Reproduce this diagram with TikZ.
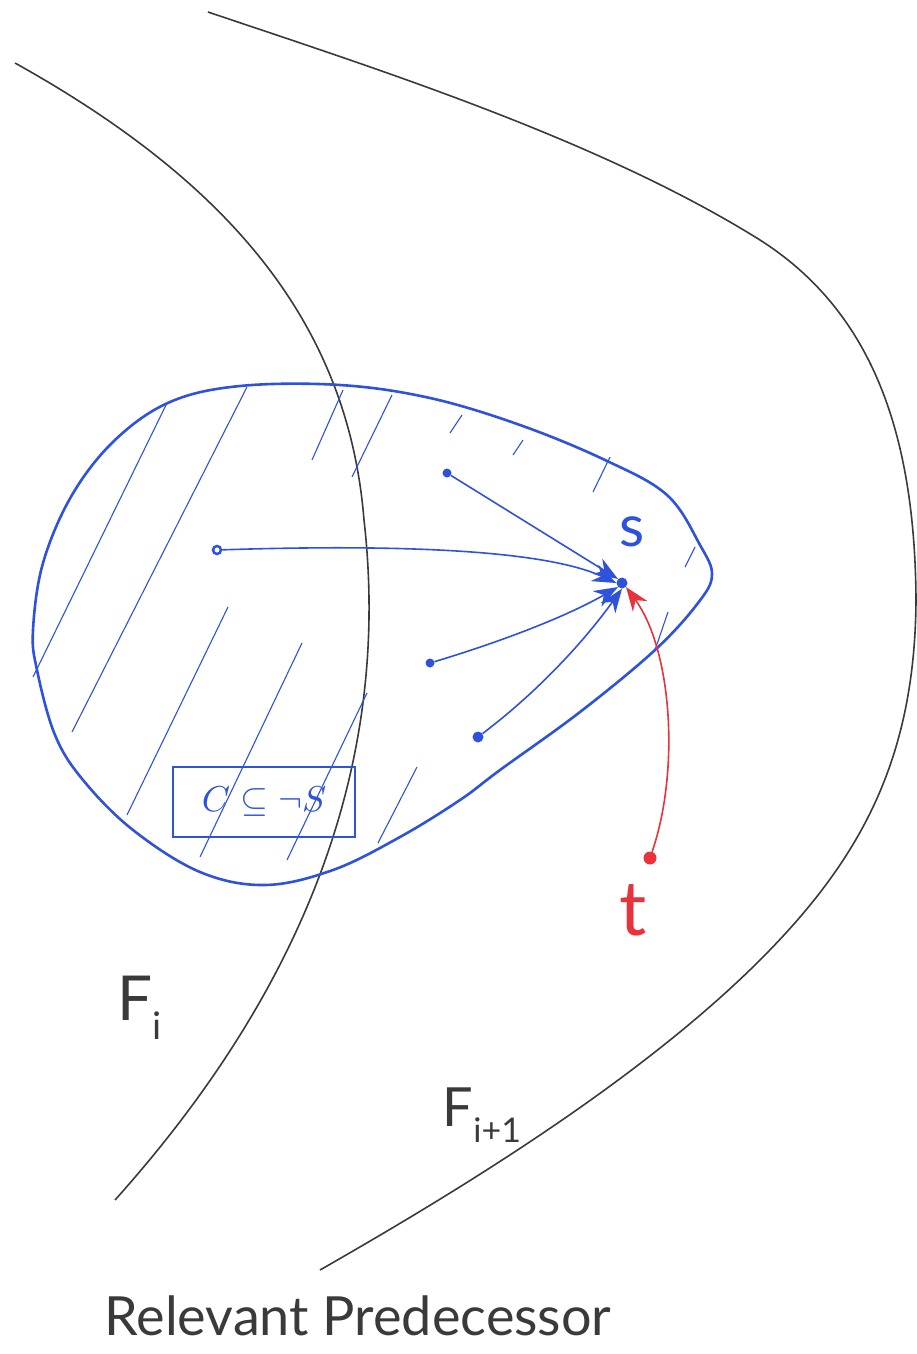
\documentclass[tikz,border=0pt]{standalone}
\usepackage{amsmath,amssymb}
\usepackage{fontspec}
\setmainfont{Lato}
\usetikzlibrary{arrows.meta,positioning,calc}
\definecolor{penBlue}{HTML}{2E52DC}
\definecolor{penRed}{HTML}{E8323C}
\definecolor{penInk}{HTML}{3A3A3A}

\begin{document}
\begin{tikzpicture}[x=1pt,y=-1pt,
    frontier/.style={draw=penInk,line width=1.6pt},
    region/.style={draw=penBlue,line width=2.6pt},
    hatch/.style={draw=penBlue,line width=1.1pt},
    dot/.style={circle,fill=#1,inner sep=0pt,minimum size=11pt},
    arr/.style={-{Stealth[length=24pt,width=18pt]},line width=1.6pt},
    lbl/.style={inner sep=0pt,font=\fontsize{#1}{#1}\selectfont}]
    \useasboundingbox (0,0) rectangle (917,1354);
    % frontiers
    \draw[frontier] (15,63) .. controls (225,180) and (348,320) .. (364,520)
      .. controls (388,730) and (330,960) .. (115,1200);
    \draw[frontier] (208,12) .. controls (380,70) and (600,140) .. (760,240)
      .. controls (870,310) and (915,430) .. (916,600)
      .. controls (915,760) and (860,860) .. (760,960)
      .. controls (640,1080) and (460,1190) .. (320,1270);
    % region
    \draw[region] plot[smooth cycle,tension=0.6] coordinates {(340,385) (430,398) (520,425) (605,460) (667,495) (700,545) (712,575) (698,603) (655,650) (580,712) (500,770) (460,800) (400,837) (333,870) (265,885) (200,872) (133,830) (83,780) (55,735) (37,670) (33,630) (43,563) (72,495) (115,440) (170,402) (240,386)};
    \foreach \xa/\ya/\xb/\yb in {33/677/167/403, 72/732/247/387, 127/815/228/607, 200/857/302/643, 287/860/367/693, 378/843/417/767, 312/460/343/390, 352/477/392/395, 450/433/462/415, 513/455/523/440, 593/492/610/457, 685/567/695/547, 655/650/668/612}
      \draw[hatch] (\xa,\ya) -- (\xb,\yb);
    \node[draw=penBlue,line width=2.2pt,minimum width=182pt,minimum height=70pt,text=penBlue] (box) at (264,802) {\scalebox{3.6}{$C\subseteq\neg S$}};
    % states
    \node[dot=penBlue] (s) at (622,583) {};
    \node[dot=penBlue,minimum size=9pt] (p1) at (447,473) {};
    \node[circle,draw=penBlue,line width=2.5pt,inner sep=0pt,minimum size=8pt] (p2) at (217,550) {};
    \node[dot=penBlue,minimum size=9pt] (p3) at (430,663) {};
    \node[dot=penBlue] (p4) at (478,737) {};
    \node[dot=penRed,minimum size=13pt] (t) at (650,858) {};
    \draw[arr,penBlue] (p1) -- (s.north west);
    \draw[arr,penBlue] (p2) .. controls (400,544) and (545,550) .. (s.west);
    \draw[arr,penBlue] (p3) .. controls (490,645) and (560,620) .. (s.south west);
    \draw[arr,penBlue] (p4) .. controls (540,690) and (585,640) .. (s.south);
    \draw[arr,penRed] (t) .. controls (680,770) and (672,650) .. (s.south east);
    % labels
    \node[lbl=58,text=penBlue] (slbl) at (632,532) {s};
    \node[lbl=76,text=penRed] (tlbl) at (633,910) {t};
    \node[lbl=62,text=penInk] (fi) at (140,1008) {F\raisebox{-0.3em}{\fontsize{38}{38}\selectfont i}};
    \node[lbl=54,text=penInk] (fnext) at (482,1115) {F\raisebox{-0.3em}{\fontsize{34}{34}\selectfont i+1}};
    \node[lbl=54,text=penInk] (title) at (358,1316) {Relevant Predecessor};
\end{tikzpicture}
\end{document}
